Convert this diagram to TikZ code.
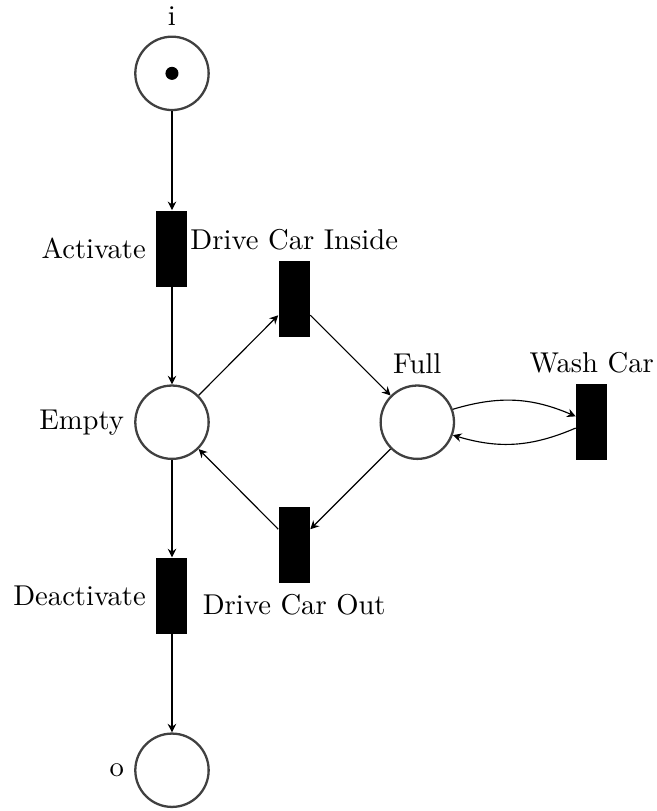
\documentclass[tikz,border=0pt]{standalone}
\usepackage{tikz}
\usetikzlibrary{arrows.meta}

\begin{document}
\begin{tikzpicture}[x=1cm,y=1cm,
    place/.style={circle,draw=black!75,thick,inner sep=0pt,minimum size=9mm},
    transition/.style={rectangle,fill=black,inner sep=0pt,minimum width=3.8mm,minimum height=9.3mm},
    token/.style={circle,fill=black,inner sep=0pt,minimum size=1.6mm},
    arc/.style={-{Stealth[length=3pt,width=3pt,inset=1pt]}}]
  \useasboundingbox (-2.11,-4.77) rectangle (5.94,5.18);
  % places
  \node[place,label=above:i] (start) at (0,4.28) {};
  \node[token] (tok) at (start) {};
  \node[place,label=left:Empty] (empty) at (0,0) {};
  \node[place,label=above:Full] (full) at (3.01,0) {};
  \node[place,label=left:o] (end) at (0,-4.27) {};
  % transitions
  \node[transition,label=left:Activate] (activate) at (0,2.13) {};
  \node[transition,label=left:Deactivate] (deactivate) at (0,-2.13) {};
  \node[transition,label=above:Drive Car Inside] (inside) at (1.50,1.51) {};
  \node[transition,label=below:Drive Car Out] (out) at (1.50,-1.51) {};
  \node[transition,label=above:Wash Car] (wash) at (5.15,0) {};
  % arcs
  \draw[arc] (start) -- (activate);
  \draw[arc] (activate) -- (empty);
  \draw[arc] (empty) -- (inside);
  \draw[arc] (inside) -- (full);
  \draw[arc] (full) -- (out);
  \draw[arc] (out) -- (empty);
  \draw[arc] (empty) -- (deactivate);
  \draw[arc] (deactivate) -- (end);
  \draw[arc] (full) to[bend left=20] (wash);
  \draw[arc] (wash) to[bend left=20] (full);
\end{tikzpicture}
\end{document}
